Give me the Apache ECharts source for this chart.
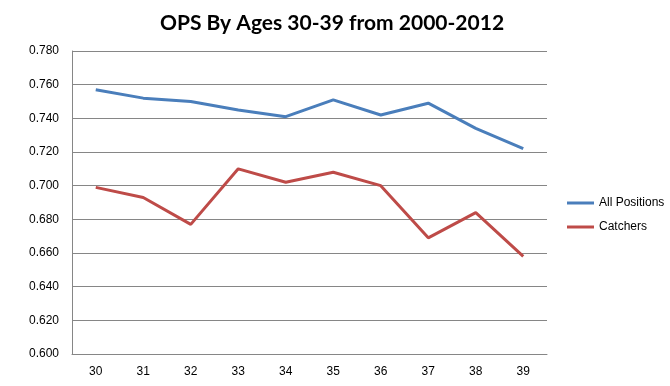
<!DOCTYPE html>
<html>
<head>
<meta charset="utf-8">
<script src="https://cdn.jsdelivr.net/npm/echarts@6/dist/echarts.min.js"></script>
<style>html,body{margin:0;padding:0;background:#fff}#c{width:670px;height:386px}</style>
</head>
<body>
<div id="c"></div>
<script>
var ages = ['30','31','32','33','34','35','36','37','38','39'];
var allPositions = [0.757, 0.752, 0.750, 0.745, 0.741, 0.751, 0.742, 0.749, 0.734, 0.722];
var catchers = [0.699, 0.693, 0.677, 0.710, 0.702, 0.708, 0.700, 0.669, 0.684, 0.658];
var yTicks = {min: 0.6, max: 0.78, interval: 0.02};

var chart = echarts.init(document.getElementById('c'), null, {renderer: 'canvas'});
chart.setOption({
  animation: false,
  backgroundColor: '#fff',
  title: {
    text: 'OPS By Ages 30-39 from 2000-2012',
    left: 327, top: 8, textAlign: 'center',
    textStyle: {fontFamily: 'Lato', fontWeight: 'bold', fontSize: 21, color: '#000'}
  },
  legend: {
    orient: 'vertical', left: 562, top: 192, itemWidth: 27, itemHeight: 3, itemGap: 12,
    icon: 'rect',
    textStyle: {fontFamily: 'Liberation Sans', fontSize: 12, color: '#000'},
    data: ['All Positions', 'Catchers']
  },
  grid: {left: 72, right: 123, top: 51, bottom: 32},
  xAxis: {
    type: 'category', data: ages, boundaryGap: true,
    axisLine: {lineStyle: {color: '#868686', width: 1}},
    axisTick: {show: false},
    axisLabel: {fontFamily: 'Liberation Sans', fontSize: 12, color: '#000', margin: 12}
  },
  yAxis: {
    type: 'value', min: yTicks.min, max: yTicks.max, interval: yTicks.interval,
    axisLine: {show: true, lineStyle: {color: '#868686', width: 1}},
    axisTick: {show: false},
    splitLine: {lineStyle: {color: '#868686', width: 1}},
    axisLabel: {fontFamily: 'Liberation Sans', fontSize: 12, color: '#000', margin: 13,
      formatter: function(v){ return v.toFixed(3); }}
  },
  series: [
    {name: 'All Positions', type: 'line', data: allPositions, symbol: 'none',
     lineStyle: {color: '#4a7ebb', width: 3}, itemStyle: {color: '#4a7ebb'}},
    {name: 'Catchers', type: 'line', data: catchers, symbol: 'none',
     lineStyle: {color: '#be4b48', width: 3}, itemStyle: {color: '#be4b48'}}
  ]
});
</script>
</body>
</html>
